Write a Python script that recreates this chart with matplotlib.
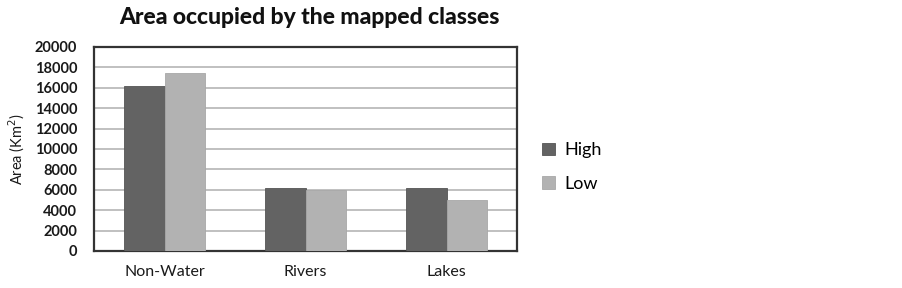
import matplotlib
matplotlib.use("Agg")
import matplotlib.pyplot as plt
import numpy as np

categories = ["Non-Water", "Rivers", "Lakes"]
series_names = ["High", "Low"]
high = [16200, 6150, 6200]
low = [17500, 6000, 5030]
yticks = [0, 2000, 4000, 6000, 8000, 10000, 12000, 14000, 16000, 18000, 20000]

plt.rcParams['font.family'] = ['Lato', 'DejaVu Sans']

fig = plt.figure(figsize=(9.03, 2.88), dpi=100)
ax = fig.add_axes([94/903, 37/288, 423/903, 204/288])

x = np.arange(len(categories))
w = 0.284
ax.bar(x - w/2, high, w, color="#636363", edgecolor="#555555", linewidth=0.6, label=series_names[0], zorder=3)
ax.bar(x + w/2, low, w, color="#b2b2b2", edgecolor="#a8a8a8", linewidth=0.6, label=series_names[1], zorder=3)

ax.set_xlim(-0.5, 2.5)
ax.set_ylim(0, 20000)
ax.set_yticks(yticks)
ax.set_yticklabels([str(t) for t in yticks], fontsize=10.5, fontweight='bold', color="#1a1a1a")
ax.set_xticks(x)
ax.set_xticklabels(categories, fontsize=11.5, color="#1a1a1a")
ax.tick_params(axis='both', length=0)
ax.tick_params(axis='y', pad=12)
ax.tick_params(axis='x', pad=10)
ax.yaxis.grid(True, color="#c0c0c0", linewidth=1.4, zorder=0)
ax.set_axisbelow(True)
for s in ax.spines.values():
    s.set_color("#333333")
    s.set_linewidth(1.6)

ax.set_ylabel("Area (Km$^2$)", fontsize=10.5, labelpad=6, color="#1a1a1a")
fig.text(309/903, 1 - 17/288, "Area occupied by the mapped classes", ha='center', va='center',
         fontsize=16.5, fontweight='black', color="#111111")

leg = fig.legend(loc='center left', bbox_to_anchor=(526/903, 1 - 167/288), frameon=False,
                 fontsize=13, handlelength=0.7, handleheight=0.7, labelspacing=0.95,
                 handletextpad=0.5)

fig.savefig("out.png", dpi=100)
